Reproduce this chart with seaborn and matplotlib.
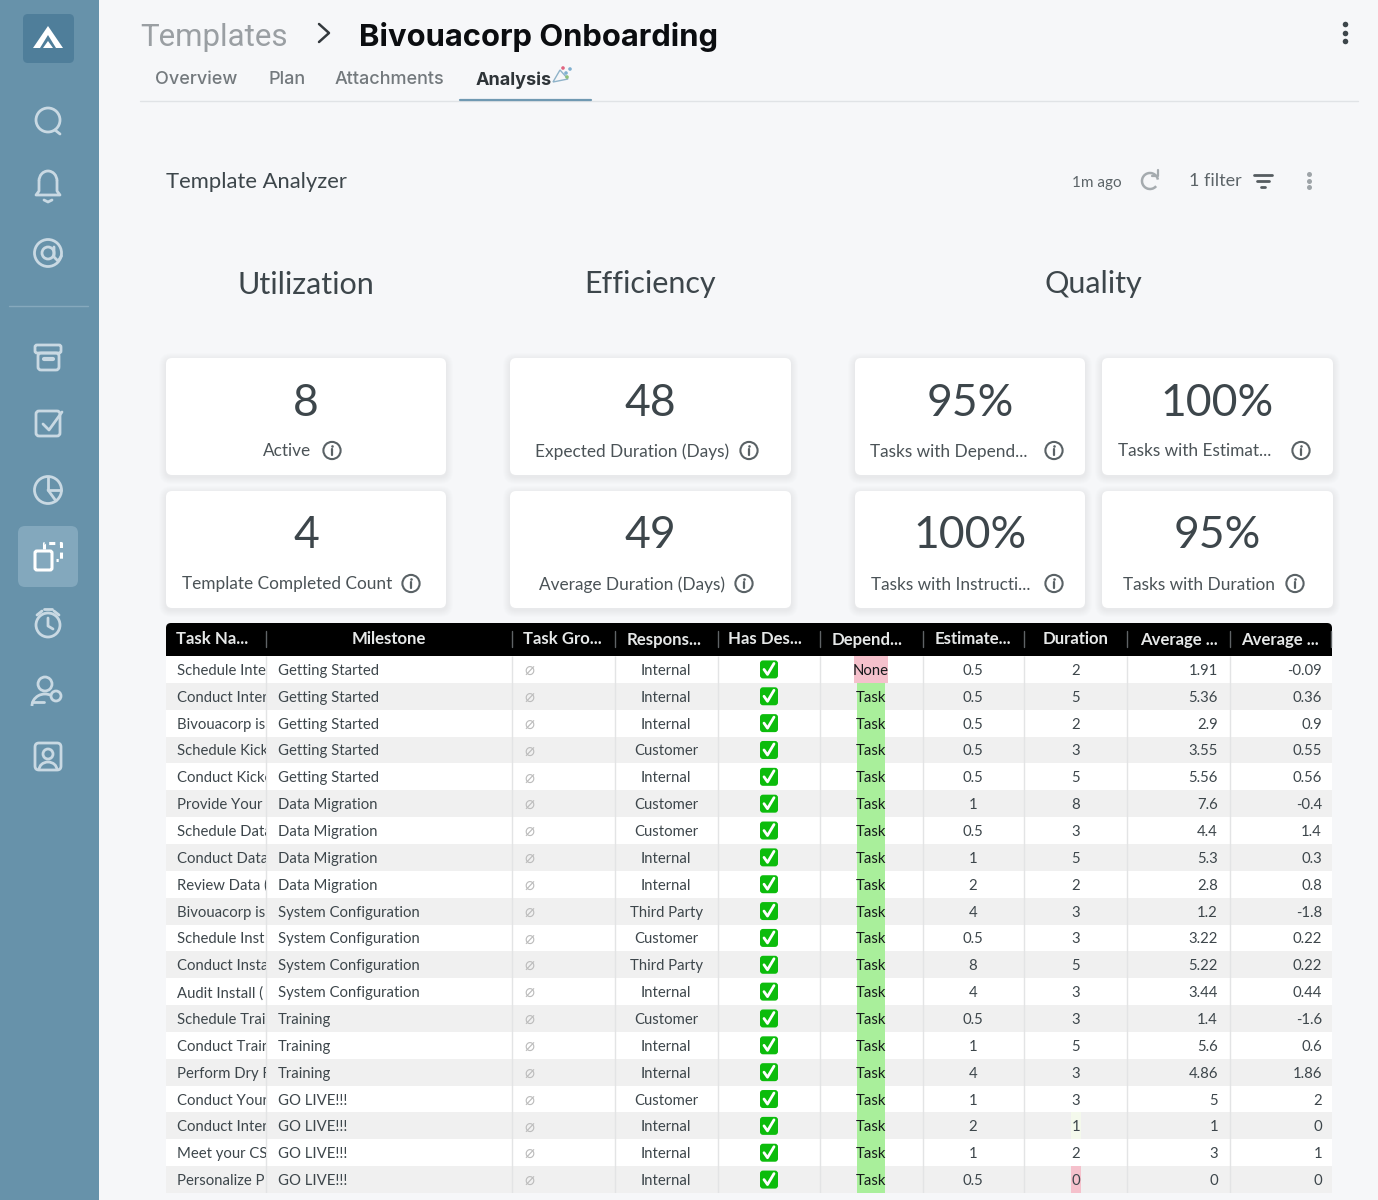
import numpy as np
import seaborn as sns
import matplotlib
matplotlib.use("Agg")
import matplotlib.pyplot as plt
from matplotlib.colors import ListedColormap
from matplotlib.patches import FancyBboxPatch, Circle, Arc, Rectangle, Polygon
from matplotlib.transforms import Bbox

# ---- data ----
task_names = ["Schedule Inte", "Conduct Inter", "Bivouacorp is", "Schedule Kick", "Conduct Kicko",
              "Provide Your T", "Schedule Data", "Conduct Data", "Review Data (", "Bivouacorp is",
              "Schedule Inst", "Conduct Insta", "Audit Install (", "Schedule Trai", "Conduct Train",
              "Perform Dry R", "Conduct Your", "Conduct Inter", "Meet your CSI", "Personalize P"]
milestones = ["Getting Started"] * 5 + ["Data Migration"] * 4 + ["System Configuration"] * 4 + \
             ["Training"] * 3 + ["GO LIVE!!!"] * 4
responsible = ["Internal", "Internal", "Internal", "Customer", "Internal", "Customer", "Customer",
               "Internal", "Internal", "Third Party", "Customer", "Third Party", "Internal",
               "Customer", "Internal", "Internal", "Customer", "Internal", "Internal", "Internal"]
dependency = ["None"] + ["Task"] * 19
estimate = ["0.5", "0.5", "0.5", "0.5", "0.5", "1", "0.5", "1", "2", "4", "0.5", "8", "4", "0.5",
            "1", "4", "1", "2", "1", "0.5"]
duration = ["2", "5", "2", "3", "5", "8", "3", "5", "2", "3", "3", "5", "3", "3", "5", "3", "3",
            "1", "2", "0"]
average = ["1.91", "5.36", "2.9", "3.55", "5.56", "7.6", "4.4", "5.3", "2.8", "1.2", "3.22", "5.22",
           "3.44", "1.4", "5.6", "4.86", "5", "1", "3", "0"]
variance = ["-0.09", "0.36", "0.9", "0.55", "0.56", "-0.4", "1.4", "0.3", "0.8", "-1.8", "0.22",
            "0.22", "0.44", "-1.6", "0.6", "1.86", "2", "0", "1", "0"]
headers = ["Task Na...", "Milestone", "Task Gro...", "Respons...", "Has Des...", "Depend...",
           "Estimate...", "Duration", "Average ...", "Average ..."]
sections = ["Utilization", "Efficiency", "Quality"]
kpi_values = ["8", "4", "48", "49", "95%", "100%", "100%", "95%"]
kpi_labels = ["Active", "Template Completed Count", "Expected Duration (Days)", "Average Duration (Days)",
              "Tasks with Depend...", "Tasks with Instructi...", "Tasks with Estimat...", "Tasks with Duration"]
tabs = ["Overview", "Plan", "Attachments", "Analysis"]

# ---- style / layout ----
sns.set_theme(style="white")
FONT = "Lato"
plt.rcParams["font.family"] = [FONT, "DejaVu Sans"]
INK = "#3d464b"
BG = "#f6f7f9"
SIDE = "#6792aa"
ICON = "#c9d9e3"
W, H = 1378, 1200
fig = plt.figure(figsize=(W / 100, H / 100), dpi=100, facecolor=BG)
ax = fig.add_axes([0, 0, 1, 1])
ax.set_xlim(0, W); ax.set_ylim(H, 0); ax.axis("off")


def T(x, y, s, size, color=INK, ha="left", weight="normal", family=None, target=None, **kw):
    return (target or ax).text(x, y, s, fontsize=size, color=color, ha=ha, va="center_baseline",
                               fontweight=weight, family=family or [FONT, "DejaVu Sans"], **kw)


def rrect(x0, y0, x1, y1, r, fc, ec="none", lw=0, z=2, alpha=None):
    p = FancyBboxPatch((x0 + r, y0 + r), x1 - x0 - 2 * r, y1 - y0 - 2 * r,
                       boxstyle=f"round,pad={r},rounding_size={r}", fc=fc, ec=ec, lw=lw, zorder=z, alpha=alpha)
    ax.add_patch(p)


def L(xs, ys, c=ICON, lw=2, z=4, **kw):
    ax.plot(xs, ys, color=c, lw=lw, zorder=z, solid_capstyle="round", **kw)


def ring(x, y, r, c=ICON, lw=2, z=4):
    ax.add_patch(Circle((x, y), r, fc="none", ec=c, lw=lw, zorder=z))


# ---- sidebar ----
ax.add_patch(Rectangle((0, 0), 99, H, fc=SIDE, ec="none", zorder=1))
rrect(23, 14, 74, 63, 5, "#4f7e9a")
ax.add_patch(Polygon([[33, 48], [48, 26], [63, 48], [56, 48], [48, 35], [40, 48]], fc="white", ec="none", zorder=4))
ax.add_patch(Polygon([[43, 48], [48, 41], [53, 48]], fc="white", ec="none", zorder=4))
# search
ring(48, 120, 12); L([55, 60], [130, 134])
# bell
ax.add_patch(Arc((48, 181), 18, 20, theta1=180, theta2=360, ec=ICON, lw=2, zorder=4))
L([39, 39, 36, 60, 57, 57], [181, 191, 195, 195, 191, 181]); L([44, 48, 52], [200, 202, 200])
# at
ring(48, 253, 13.5); ring(48, 253, 6); L([54, 54, 58, 61.5], [247, 257, 261, 256])
L([9, 88], [305.5, 305.5], c="#86a9bd", lw=1)
# archive
rrect(35, 345, 61, 353, 2, "none", ICON, 2, 4); rrect(38, 353, 59, 370, 3, "none", ICON, 2, 4)
L([44, 53], [359, 359], lw=3)
# check
rrect(36, 411, 60, 436, 3, "none", ICON, 2, 4); L([43, 49, 62], [424, 430, 412])
# pie
ring(48, 490, 13.5); L([48, 48, 61], [477, 490, 490]); L([48, 56], [490, 501])
# active templates
rrect(18, 526, 78, 587, 7, "#83a8bd")
rrect(35, 551, 52, 570, 2, "none", "white", 2.2, 4)
ax.plot([44, 44, 61, 61, 56], [549, 543, 543, 560, 560], color="white", lw=2.2, ls=(0, (2, 1.5)), zorder=4)
# alarm
ring(48, 625, 12); L([48, 48, 53], [618, 626, 629]); L([37, 42], [615, 611]); L([59, 54], [615, 611]); L([44, 52], [609, 609])
# user settings
ring(45, 684, 7); ax.add_patch(Arc((45, 706), 26, 24, theta1=180, theta2=300, ec=ICON, lw=2, zorder=4))
L([32, 44], [702, 702]); ring(56, 696, 5)
# contact
rrect(35, 743, 61, 770, 4, "none", ICON, 2, 4); ring(48, 754, 5)
ax.add_patch(Arc((48, 770), 18, 16, theta1=180, theta2=360, ec=ICON, lw=2, zorder=4))

# ---- page header ----
T(140, 35, "Templates", 22.5, color="#9a9fa3", family=["Roboto", "DejaVu Sans"])
L([319, 329, 319], [24, 33, 42], c="#33393d", lw=1.8)
T(359, 34.5, "Bivouacorp Onboarding", 22.3, color="#0b0d10", weight="bold", family=["Inter", "DejaVu Sans"])
tab_x = [155, 268, 335, 476]
for i, (x, s) in enumerate(zip(tab_x, tabs)):
    T(x, 78, s, 13.0, color="#2e3438" if i == 3 else "#73797d", weight="bold" if i == 3 else "medium",
      family=["Inter", "DejaVu Sans"])
ax.add_patch(Polygon([[553, 82], [560, 70], [568, 79]], fc="none", ec="#8fb3c9", lw=1, zorder=4))
ax.scatter([563, 566, 570, 567], [68, 73, 69, 77], s=2.5, c=["#e0637f", "#7fb0d0", "#7fb0d0", "#8ec27a"], zorder=4)
L([140, 1358], [100.5, 100.5], c="#e0e3e6", lw=1, z=3)
L([460, 591], [100, 100], c="#7099b2", lw=1.6, z=3)
ax.scatter([1345] * 3, [24, 33, 41], s=16, c="#3d464b", zorder=4, linewidths=0)

# ---- panel title row ----
T(166, 180, "Template Analyzer", 15.8)
T(1072, 181, "1m ago", 11, color="#5c6468")
ax.add_patch(Arc((1150, 181), 16, 16, theta1=-320, theta2=-10, ec="#a5abaf", lw=1.8, zorder=4))
L([1152, 1158, 1158], [176, 176, 170], c="#a5abaf", lw=1.6)
T(1189, 180, "1 filter", 13, color="#5c6468")
L([1254, 1272], [175, 175], c="#555c60"); L([1257, 1269], [181, 181], c="#555c60"); L([1261, 1265], [186.5, 186.5], c="#555c60")
ax.scatter([1309] * 3, [174, 181, 187], s=13, c="#9ea4a8", zorder=4, linewidths=0)

for x, s in zip([306, 650, 1093], sections):
    T(x, 282, s, 22, ha="center")

# ---- KPI cards ----
card_x = [(166, 446), (166, 446), (510, 791), (510, 791), (855, 1085), (855, 1085), (1102, 1333), (1102, 1333)]
card_y = [(358, 475), (491, 608)] * 4
label_cx = [287.5, 287.5, 632.5, 632, 948.5, 950.5, 1194.5, 1199]
info_x = [332, 411, 749, 744, 1054, 1054, 1301, 1295]
for (x0, x1), (y0, y1), val, lab, lx, ix in zip(card_x, card_y, kpi_values, kpi_labels, label_cx, info_x):
    for k in range(7, 0, -1):
        rrect(x0 - k, y0 - k + 2, x1 + k, y1 + k + 2, 6 + k, "#9aa3aa", z=2, alpha=0.016)
    rrect(x0, y0, x1, y1, 6, "white", z=3)
    cx = (x0 + x1) / 2
    T(cx, y0 + 41, val, 32, ha="center", zorder=5)
    T(lx, y0 + 92, lab, 12.4, ha="center", zorder=5, color="#4b5357")
    ring(ix, y0 + 92.5, 8.6, c="#5a6266", lw=1.5, z=5)
    L([ix, ix], [y0 + 91, y0 + 97], c="#5a6266", lw=1.6, z=5)
    ax.scatter([ix], [y0 + 88], s=3.5, c="#5a6266", zorder=5, linewidths=0)

# ---- table header ----
TL, TR, HT, RT, RH = 166, 1332, 623, 656, 26.85
n = len(task_names)
dividers = [266, 512, 615, 717.5, 819.5, 922.5, 1024, 1127, 1230]
rrect(TL, HT, TR, HT + 14, 5, "black", z=3)
ax.add_patch(Rectangle((TL, HT + 7), TR - TL, RT - HT - 7, fc="black", ec="none", zorder=3))
hdr_x = [212, 389, 562, 664, 765, 867, 973, 1076, 1179, 1280]
for x, s in zip(hdr_x, headers):
    T(x, 638, s, 12.1, color="#e6e8e8", ha="center", weight="bold", zorder=5)
for x in dividers + [1331]:
    L([x, x], [631, 647], c="#5f6366", lw=1, z=5)

# ---- table body drawn by seaborn ----
dep_span = {"None": (854, 888), "Task": (857, 885)}
dur_span = (1071, 1081)
codes = np.zeros((n, TR - TL), dtype=int)
for i in range(n):
    codes[i, :] = i % 2
    a, b = dep_span[dependency[i]]
    codes[i, a - TL:b - TL] = 3 if dependency[i] == "None" else 2
    if duration[i] == "1":
        codes[i, dur_span[0] - TL:dur_span[1] - TL] = 4
    if duration[i] == "0":
        codes[i, dur_span[0] - TL:dur_span[1] - TL] = 3
cmap = ListedColormap(["#ffffff", "#f0f0f0", "#a9ef9b", "#f5c1cc", "#f4f9ec"])
tax = fig.add_axes([TL / W, 1 - (RT + n * RH) / H, (TR - TL) / W, n * RH / H], zorder=2)
sns.heatmap(codes, ax=tax, cmap=cmap, vmin=-0.5, vmax=4.5, cbar=False, xticklabels=False, yticklabels=False)
tax.vlines([d - TL for d in dividers], 0, n, color="#e3e4e5", lw=1, zorder=3)
clip1 = Bbox([[TL + 2, 0], [266, H]])
FS = 10.7
for i in range(n):
    y = i + 0.5
    t = T(177 - TL, y, task_names[i], FS, target=tax); t.set_clip_box(clip1); t.set_clip_on(True)
    T(278 - TL, y, milestones[i], FS, target=tax)
    T(529 - TL, y - 1.5 / RH, "\u2300", 12, color="#bdbdbd", ha="center", target=tax, family=["DejaVu Sans"])
    T(666 - TL, y, responsible[i], FS, ha="center", target=tax)
    cx = 769 - TL
    tax.add_patch(FancyBboxPatch((cx - 9, y - 9 / RH), 18, 18 / RH, boxstyle="round,pad=0,rounding_size=3",
                                 mutation_aspect=1 / RH, fc="#0cbc0c", ec="none", zorder=4))
    tax.plot([cx - 5, cx - 1.5, cx + 5], [y, y + 5 / RH, y - 6 / RH], color="white", lw=2, zorder=5,
             solid_capstyle="round")
    T(871 - TL, y, dependency[i], FS, color="#15191b", ha="center", target=tax)
    T(973 - TL, y, estimate[i], FS, ha="center", target=tax)
    T(1076 - TL, y, duration[i], FS, ha="center", target=tax)
    T(1218 - TL, y, average[i], FS, ha="right", target=tax)
    T(1322 - TL, y, variance[i], FS, ha="right", target=tax)

fig.savefig("out.png", dpi=100, facecolor=BG)
